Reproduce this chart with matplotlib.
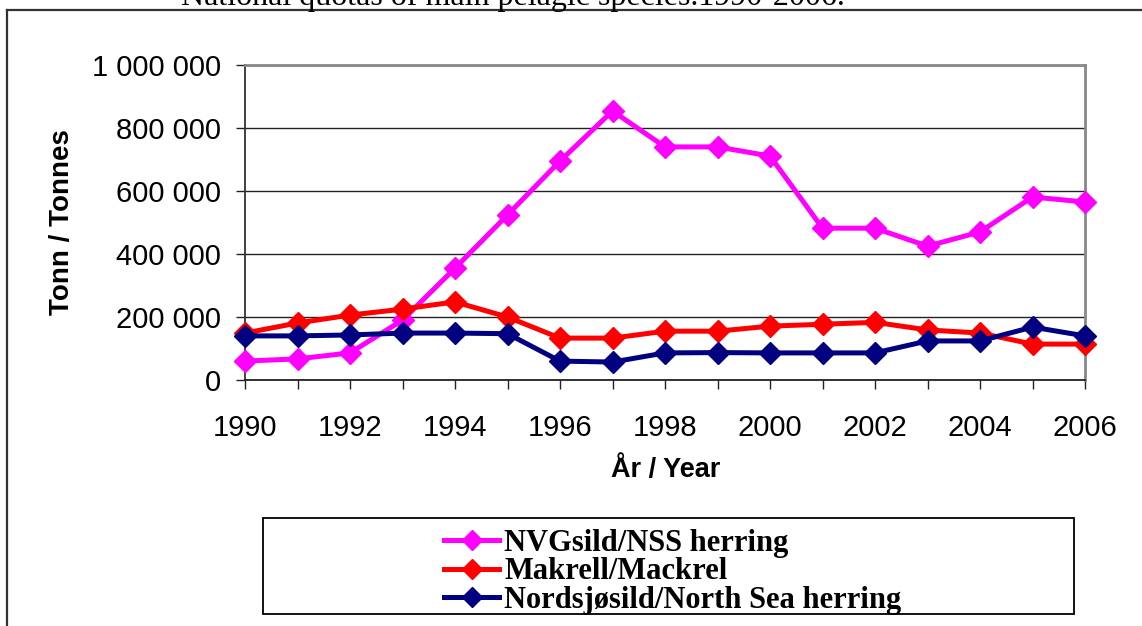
import matplotlib
matplotlib.use("Agg")
import matplotlib.pyplot as plt
from matplotlib.lines import Line2D
from matplotlib.patches import Rectangle

years = list(range(1990, 2007))
nvg_sild = [60000, 67000, 86000, 190000, 355000, 524000, 695000, 854000, 740000,
            740000, 711000, 482000, 482000, 425000, 470000, 581000, 565000]
makrell = [149000, 181000, 206000, 225000, 248000, 200000, 133000, 133000, 155000,
           155000, 171000, 177000, 183000, 159000, 149000, 114000, 114000]
nordsjosild = [140000, 140000, 143000, 149000, 149000, 147000, 60000, 57000, 86000,
               87000, 86000, 86000, 86000, 124000, 124000, 168000, 140000]
series_names = ["NVGsild/NSS herring", "Makrell/Mackrel", "Nordsjøsild/North Sea herring"]
series_colors = ["#FF00FF", "#FF0000", "#000080"]
y_ticks = [0, 200000, 400000, 600000, 800000, 1000000]
y_tick_labels = ["0", "200 000", "400 000", "600 000", "800 000", "1 000 000"]
x_tick_labels = [str(y) if y % 2 == 0 else "" for y in years]
title_text = "National quotas of main pelagic species.1990-2006."

W, H = 1142, 626
fig = plt.figure(figsize=(W / 100, H / 100), dpi=100)

def fx(px):
    return px / W

def fy(py):
    return 1 - py / H

# outer frame (top and left edges visible)
fig.add_artist(Line2D([fx(7), fx(7)], [fy(10), fy(640)], color="#333333", lw=1.6,
                      transform=fig.transFigure))
fig.add_artist(Line2D([fx(7), fx(1150)], [fy(10), fy(10)], color="#333333", lw=1.6,
                      transform=fig.transFigure))

# cut-off title at top
fig.text(fx(513), fy(5), title_text, ha="center", va="baseline",
         fontfamily="Liberation Serif", fontsize=23)

ax = fig.add_axes([fx(245), fy(380), fx(1085) - fx(245), fy(65) - fy(380)])
for vals, name, col in zip([nvg_sild, makrell, nordsjosild], series_names, series_colors):
    ax.plot(years, vals, color=col, lw=3.6, marker="D", markersize=11,
            markeredgecolor=col, label=name, clip_on=False, zorder=3)

ax.set_xlim(1990, 2006)
ax.set_ylim(0, 1000000)
ax.set_yticks(y_ticks)
ax.set_yticklabels(y_tick_labels, fontfamily="Liberation Sans", fontsize=21)
ax.set_xticks(years)
ax.set_xticklabels(x_tick_labels, fontfamily="Liberation Sans", fontsize=21)
ax.tick_params(axis="both", direction="out", length=6.5, width=1, color="#222222")
ax.tick_params(axis="y", pad=11)
ax.tick_params(axis="x", pad=18)
ax.yaxis.grid(True, color="#222222", lw=1.0, zorder=1)
ax.set_axisbelow(True)
ax.spines["left"].set_color("#333333")
ax.spines["left"].set_linewidth(1.3)
ax.spines["bottom"].set_color("#222222")
ax.spines["bottom"].set_linewidth(1.3)
ax.spines["top"].set_color("#888888")
ax.spines["top"].set_linewidth(2)
ax.spines["right"].set_color("#888888")
ax.spines["right"].set_linewidth(2)

fig.text(fx(62), fy(222), "Tonn / Tonnes", rotation=90, ha="center", va="center",
         fontfamily="Liberation Sans", fontsize=20, fontweight="bold")
fig.text(fx(666), fy(470), "År / Year", ha="center", va="center",
         fontfamily="Liberation Sans", fontsize=19.5, fontweight="bold")

# legend box
fig.add_artist(Rectangle((fx(263), fy(614)), fx(1074) - fx(263), fy(518) - fy(614),
                         fill=False, edgecolor="black", lw=1.3,
                         transform=fig.transFigure))
handles, labels = ax.get_legend_handles_labels()
leg = fig.legend(handles, labels, loc="upper left",
                 bbox_to_anchor=(fx(444), fy(529)), frameon=False, borderpad=0,
                 borderaxespad=0, handlelength=1.8, handletextpad=0.17,
                 labelspacing=-0.02,
                 prop={"family": "Liberation Serif", "weight": "bold", "size": 22})
for h in leg.legend_handles:
    h.set_markersize(10)

fig.savefig("out.png", dpi=100)
